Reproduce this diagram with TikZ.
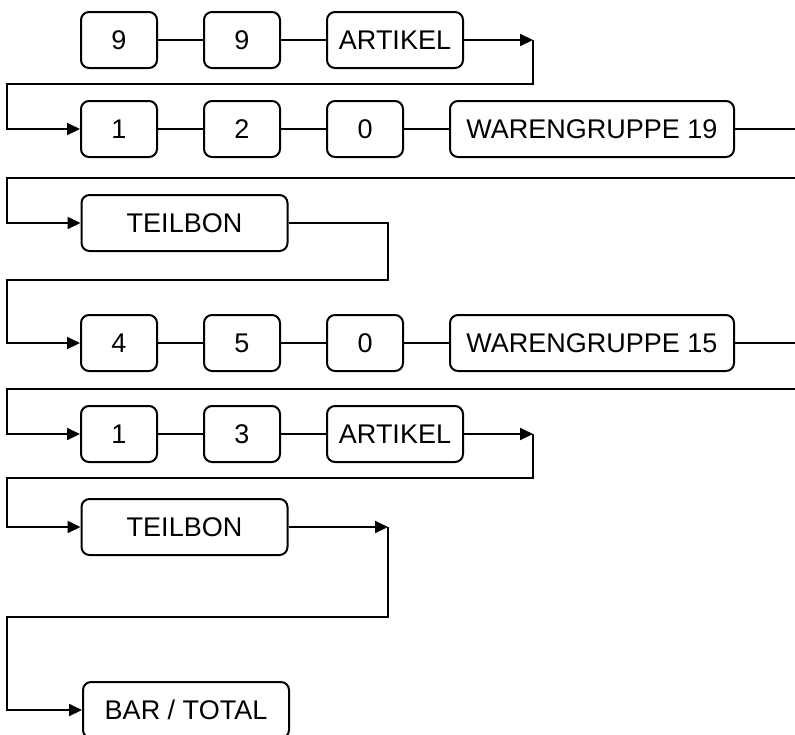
\documentclass[tikz,border=0pt]{standalone}
\usepackage{fontspec}
\setmainfont{Liberation Sans}
\usetikzlibrary{arrows.meta, positioning}

\begin{document}
\begin{tikzpicture}[x=0.5pt, y=-0.5pt, node distance=22.5pt,
key/.style={rectangle, rounded corners=4pt, draw=black, line width=1pt,
minimum width=38pt, minimum height=28pt, inner sep=0pt,
font=\fontsize{13.5}{16}\selectfont},
widekey/.style={key, minimum width=#1},
link/.style={line width=1pt},
arrow/.style={link, -{Triangle[length=6.5pt,width=6pt]}}]

\useasboundingbox (0,0) rectangle (795,734);

% row 1
\node[key] (nineA) at (119,40) {9};
\node[key, right=of nineA] (nineB) {9};
\node[widekey=68pt, right=of nineB] (artA) {ARTIKEL};

% row 2
\node[key] (oneA) at (119,129) {1};
\node[key, right=of oneA] (two) {2};
\node[key, right=of two] (zeroA) {0};
\node[widekey=142pt, right=of zeroA] (wgA) {WARENGRUPPE 19};

% row 3
\node[widekey=103pt] (teilA) at (184.5,223) {TEILBON};

% row 4
\node[key] (four) at (119,343) {4};
\node[key, right=of four] (five) {5};
\node[key, right=of five] (zeroB) {0};
\node[widekey=142pt, right=of zeroB] (wgB) {WARENGRUPPE 15};

% row 5
\node[key] (oneB) at (119,434) {1};
\node[key, right=of oneB] (three) {3};
\node[widekey=68pt, right=of three] (artB) {ARTIKEL};

% row 6 + 7
\node[widekey=103pt] (teilB) at (184.5,527) {TEILBON};
\node[widekey=103pt] (bar) at (186,710) {BAR / TOTAL};

% turning points
\coordinate (turnA) at (533,40);
\coordinate (backA) at (7,84);
\coordinate (outA)  at (797,129);
\coordinate (inA)   at (797,178);
\coordinate (turnB) at (388,223);
\coordinate (backB) at (7,280);
\coordinate (outB)  at (797,343);
\coordinate (inB)   at (797,389);
\coordinate (turnC) at (533,434);
\coordinate (backC) at (7,478);
\coordinate (turnD) at (388,527);
\coordinate (backD) at (7,617);

\draw[link] (nineA) -- (nineB);
\draw[link] (nineB) -- (artA);
\draw[arrow] (artA) -- (turnA);
\draw[arrow] (turnA) -- (turnA |- backA) -- (backA) |- (oneA);

\draw[link] (oneA) -- (two);
\draw[link] (two) -- (zeroA);
\draw[link] (zeroA) -- (wgA);
\draw[link] (wgA) -- (outA);
\draw[arrow] (inA) -- (7,178) |- (teilA);

\draw[arrow] (teilA) -- (turnB) -- (turnB |- backB) -- (backB) |- (four);

\draw[link] (four) -- (five);
\draw[link] (five) -- (zeroB);
\draw[link] (zeroB) -- (wgB);
\draw[link] (wgB) -- (outB);
\draw[arrow] (inB) -- (7,389) |- (oneB);

\draw[link] (oneB) -- (three);
\draw[link] (three) -- (artB);
\draw[arrow] (artB) -- (turnC);
\draw[arrow] (turnC) -- (turnC |- backC) -- (backC) |- (teilB);

\draw[arrow] (teilB) -- (turnD);
\draw[arrow] (turnD) -- (turnD |- backD) -- (backD) |- (bar);
\end{tikzpicture}
\end{document}
